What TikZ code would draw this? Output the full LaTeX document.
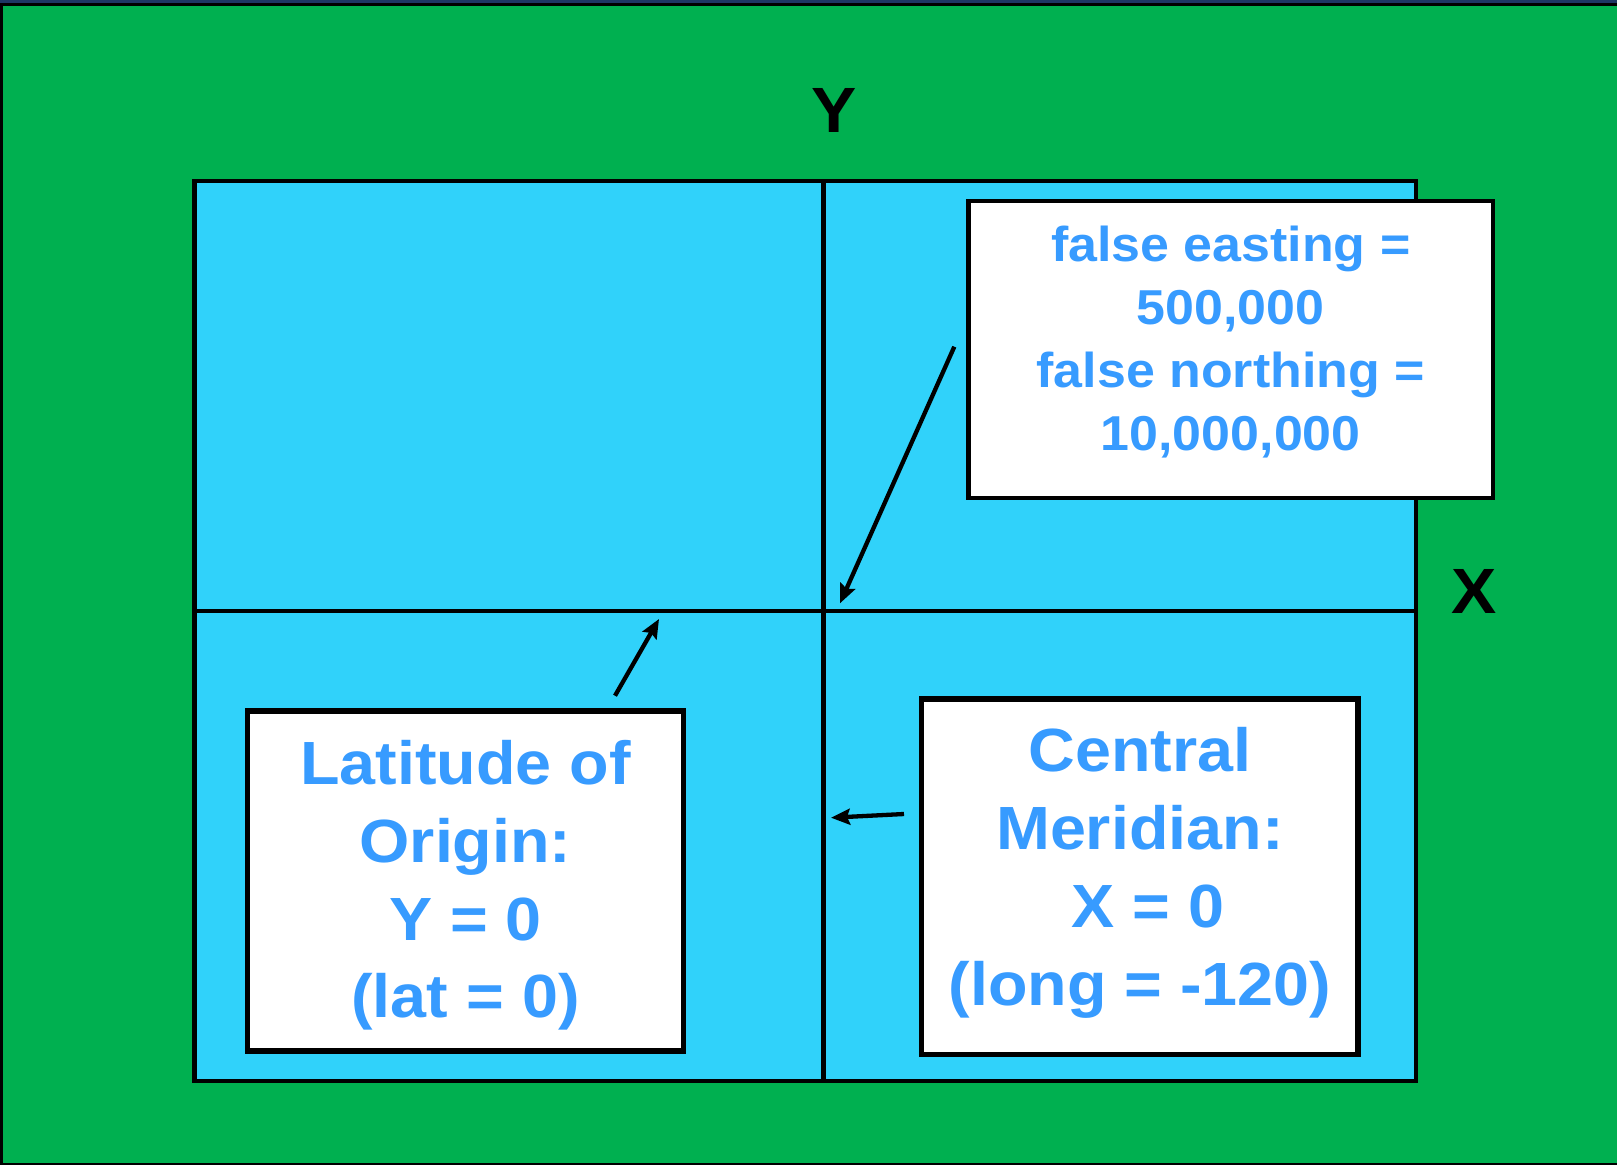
\documentclass[tikz,border=0pt]{standalone}
\usepackage{fontspec}
\newfontfamily\slidefont{Liberation Sans}[FakeStretch=1.06]
\usepackage{tikz}
\usetikzlibrary{arrows.meta,positioning}
\definecolor{slidegreen}{RGB}{0,176,80}
\definecolor{slidenavy} {RGB}{30,55,100}
\definecolor{gridblue}  {RGB}{48,210,250}
\definecolor{textblue}  {RGB}{55,155,255}
\tikzset{
  plane/.style={rectangle,draw=black,fill=gridblue,line width=4.3pt,
                inner sep=0pt,outer sep=0pt},
  axis/.style={black,line width=4.3pt},
  infobox/.style={rectangle,draw=black,fill=white,line width=5.5pt,
                  inner sep=0pt,align=center,text=textblue,
                  font=\slidefont\bfseries\fontsize{61pt}{77.7pt}\selectfont},
  axlabel/.style={inner sep=0pt,text=black,
                  font=\slidefont\bfseries\fontsize{64pt}{70pt}\selectfont},
  arr/.style={-{Stealth[length=19pt,width=16pt,inset=3pt]},line width=4.3pt,#1},
  arr/.default=black,
}
\begin{document}
\begin{tikzpicture}[x=1pt,y=-1pt]
    \useasboundingbox (0,0) rectangle (1617,1165);
    \fill[slidenavy] (0,0) rectangle (1617,1165);
    \draw[fill=slidegreen,line width=2.5pt] (1.25,4.5) rectangle (1620,1163.75);
    \node[plane,minimum width=1221.5pt,minimum height=900pt] (plane) at (805.25,631) {};
    \coordinate (origin) at (823.5,611);
    \draw[axis] (plane.north -| origin) -- (plane.south -| origin);
    \draw[axis] (plane.west |- origin) -- (plane.east |- origin);
    \node[axlabel] (ylab) at (834,110.3) {Y};
    \node[axlabel] (xlab) at (1474,591) {X};
    \node[infobox,line width=4.7pt,minimum width=524.5pt,minimum height=297pt,text depth=23pt,
          font=\slidefont\bfseries\fontsize{49pt}{63pt}\selectfont]
      (falseorig) at (1230.75,349.5) {false easting =\\500,000\\false northing =\\10,000,000};
    \node[infobox,minimum width=435.6pt,minimum height=340pt,text depth=3.4pt]
      (latorig) at (465.5,881) {Latitude of\\Origin:\\Y = 0\\(lat = 0)};
    \node[infobox,minimum width=436.3pt,minimum height=355.5pt,text depth=20.7pt]
      (cmerid) at (1139.85,876.75) {Central\\Meridian:\\\hspace*{16pt}X = 0\\(long = -120)};
    \coordinate (falsetail) at (954.3,346.7);
    \coordinate (falsetip)  at (840,603.3);
    \coordinate (lattail)   at (615,695.7);
    \coordinate (lattip)    at (659,619);
    \coordinate (cmtail)    at (904,814);
    \coordinate (cmtip)     at (831,817.7);
    \draw[arr] (falsetail) -- (falsetip);
    \draw[arr] (lattail) -- (lattip);
    \draw[arr] (cmtail) -- (cmtip);
  \end{tikzpicture}
\end{document}
